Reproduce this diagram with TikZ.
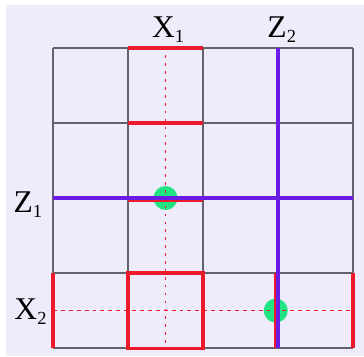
\documentclass[tikz,border=0pt]{standalone}
\usepackage{fontspec}
\setmainfont{Liberation Serif}
\usepackage{xcolor}
\usepackage{tikz}
\usetikzlibrary{positioning,calc}
\definecolor{GridGray}{HTML}{62626E}
\definecolor{OpRed}{HTML}{EE1A2C}
\definecolor{OpPurple}{HTML}{6A1CE4}
\definecolor{DotGreen}{HTML}{22E483}
\definecolor{SoftLila}{HTML}{EEEBFA}
\newcommand{\opname}[2]{#1\raisebox{-.35ex}{\fontsize{14}{14}\selectfont #2}}

\begin{document}
\begin{tikzpicture}[
    gridline/.style={GridGray,line width=1pt},
    redop/.style={OpRed,line width=2.3pt},
    purpleop/.style={OpPurple,line width=2.5pt},
    dualline/.style={OpRed,line width=.7pt,dash pattern=on 3pt off 3pt},
    dualdots/.style={OpRed,line width=.8pt,dash pattern=on 2pt off 4pt},
    greendot/.style={circle,fill=DotGreen,inner sep=0pt,minimum size=.64cm},
    oplabel/.style={font=\fontsize{24}{28}\selectfont,inner sep=0pt}]
  \useasboundingbox (-1.413,-.213) rectangle (8.293,9.28);
  \fill[white] (-1.413,-.213) rectangle (8.293,9.28);
  \fill[SoftLila] (-1.253,-.213) rectangle (8.293,9.147);

  % Puntos verdes primero para que queden detrás de las líneas.
  \node[greendot] (dotA) at (3,4) {};
  \node[greendot] (dotB) at (5.94,1) {};

  \foreach \k in {0,2,...,8} {
    \draw[gridline] (\k,0)--(\k,8);
    \draw[gridline] (0,\k)--(8,\k);
  }

  \draw[dualdots] (3,7.8)--(3,0);
  \draw[dualline] (0,1)--(8,1);

  \draw[redop] (2,8)--(4,8);
  \draw[redop] (2,6)--(4,6);
  \draw[redop] (2,3.94)--(4,3.94);
  \draw[redop] (2,0) rectangle (4,2);
  \draw[redop] (0,0)--(0,2);
  \draw[redop] (5.94,0)--(5.94,2);
  \draw[redop] (8,0)--(8,2);

  \draw[purpleop] (0,4)--(8,4);
  \draw[purpleop] (6,0)--(6,8);

  \node[oplabel] (labX1) at (3.07,8.5) {\opname{X}{1}};
  \node[oplabel] (labZ2) at (6.1,8.5) {\opname{Z}{2}};
  \node[oplabel] (labZ1) at (-.67,3.82) {\opname{Z}{1}};
  \node[oplabel] (labX2) at (-.6,.97) {\opname{X}{2}};
\end{tikzpicture}
\end{document}
